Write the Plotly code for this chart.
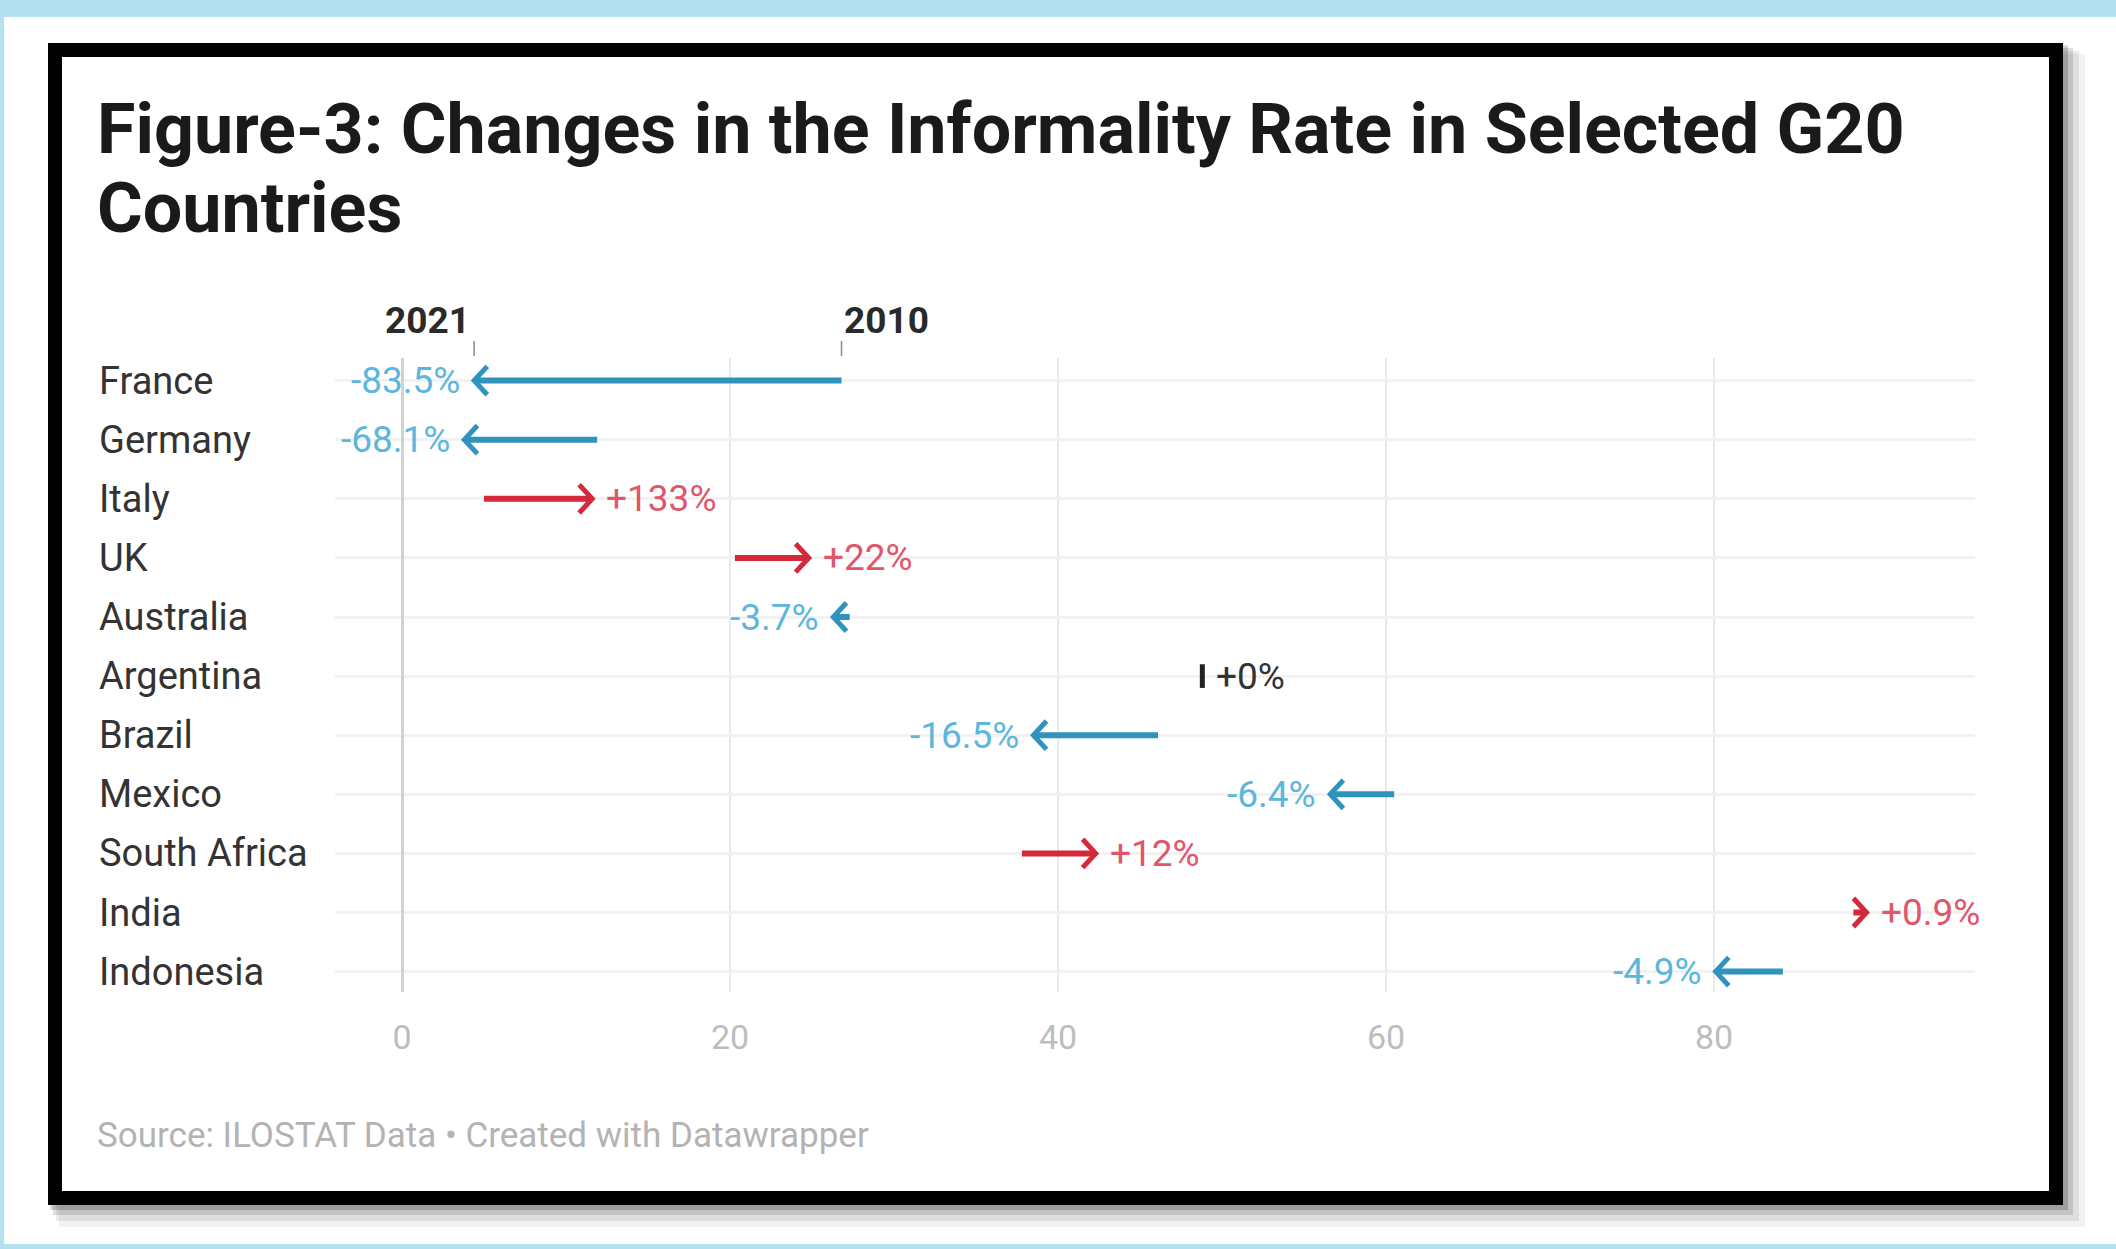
import plotly.graph_objects as go

# ---------------- data ----------------
countries = ["France", "Germany", "Italy", "UK", "Australia", "Argentina",
             "Brazil", "Mexico", "South Africa", "India", "Indonesia"]
rate_2010 = [26.8, 11.9, 5.0, 20.3, 27.3, 48.8, 46.1, 60.5, 37.8, 88.5, 84.2]
rate_2021 = [4.4, 3.8, 11.6, 24.8, 26.3, 48.8, 38.5, 56.6, 42.3, 89.3, 80.1]
change_labels = ["-83.5%", "-68.1%", "+133%", "+22%", "-3.7%", "+0%",
                 "-16.5%", "-6.4%", "+12%", "+0.9%", "-4.9%"]
x_ticks = [0, 20, 40, 60, 80]
title_lines = ["Figure-3: Changes in the Informality Rate in Selected G20", "Countries"]
source_text = "Source: ILOSTAT Data \u2022 Created with Datawrapper"

# ---------------- style ----------------
W, H = 2116, 1249
FONT = "Roboto"
BLUE = "#2f93bd"
BLUE_LBL = "#5db6dc"
RED = "#d3293a"
RED_LBL = "#e0566a"
DARK = "#222222"


def fx(p):
    return p / W


def fy(p):
    return 1 - p / H


# plot area in pixels
PL, PR, PT, PB = 335, 1975, 358, 992
X0_PX, X_SCALE = 402, 16.4           # pixel of value 0, pixels per unit
ROW0_PX, ROW_STEP = 380.6, 59.1
x_range = [(PL - X0_PX) / X_SCALE, (PR - X0_PX) / X_SCALE]
y_range = [(PB - ROW0_PX) / ROW_STEP, (PT - ROW0_PX) / ROW_STEP]

HEAD_D = 0.8    # arrow head length in x units
HEAD_H = 0.24   # arrow head half-height in row units

fig = go.Figure()

for i, (c, s, e) in enumerate(zip(countries, rate_2010, rate_2021)):
    if e == s:
        fig.add_trace(go.Scatter(x=[s, s], y=[i - 0.2, i + 0.2], mode="lines",
                                 line=dict(color=DARK, width=5),
                                 hoverinfo="skip", showlegend=False))
        continue
    d = 1 if e > s else -1
    col = RED if d > 0 else BLUE
    fig.add_trace(go.Scatter(x=[s, e - d * 0.15], y=[i, i], mode="lines",
                             line=dict(color=col, width=6),
                             hoverinfo="skip", showlegend=False))
    fig.add_trace(go.Scatter(x=[e - d * HEAD_D, e, e - d * HEAD_D],
                             y=[i - HEAD_H, i, i + HEAD_H], mode="lines",
                             line=dict(color=col, width=5),
                             hoverinfo="skip", showlegend=False))

annotations = []
# title
for txt, yc in zip(title_lines, (129, 208)):
    annotations.append(dict(text="<b>" + txt + "</b>", x=fx(95), y=fy(yc),
                            xref="paper", yref="paper", xanchor="left", yanchor="middle",
                            showarrow=False, font=dict(family=FONT, size=70, color="#1a1a1a")))
# country labels
for i, c in enumerate(countries):
    annotations.append(dict(text=c, x=fx(97), y=i, xref="paper", yref="y",
                            xanchor="left", yanchor="middle", showarrow=False,
                            font=dict(family=FONT, size=38, color="#333333")))
# value labels
for i, (s, e, lbl) in enumerate(zip(rate_2010, rate_2021, change_labels)):
    if e < s:
        annotations.append(dict(text=lbl, x=e, y=i, xref="x", yref="y", xanchor="right",
                                yanchor="middle", xshift=-12, showarrow=False,
                                font=dict(family=FONT, size=37, color=BLUE_LBL)))
    else:
        col = RED_LBL if e > s else "#333333"
        annotations.append(dict(text=lbl, x=e, y=i, xref="x", yref="y", xanchor="left",
                                yanchor="middle", xshift=12, showarrow=False,
                                font=dict(family=FONT, size=37, color=col)))
# header labels
annotations.append(dict(text="<b>2021</b>", x=rate_2021[0], y=fy(320), xref="x", yref="paper",
                        xanchor="right", yanchor="middle", xshift=-2, showarrow=False,
                        font=dict(family=FONT, size=37, color="#2a2a2a")))
annotations.append(dict(text="<b>2010</b>", x=rate_2010[0], y=fy(320), xref="x", yref="paper",
                        xanchor="left", yanchor="middle", xshift=0, showarrow=False,
                        font=dict(family=FONT, size=37, color="#2a2a2a")))
# source
annotations.append(dict(text=source_text, x=fx(95), y=fy(1135), xref="paper", yref="paper",
                        xanchor="left", yanchor="middle", showarrow=False,
                        font=dict(family=FONT, size=35, color="#b3b3b3")))

shapes = []
# background bands (light blue)
shapes.append(dict(type="rect", xref="paper", yref="paper", x0=0, x1=1, y0=fy(17), y1=1,
                   fillcolor="#b4e1ef", line=dict(width=0), layer="below"))
shapes.append(dict(type="rect", xref="paper", yref="paper", x0=0, x1=fx(4), y0=0, y1=1,
                   fillcolor="#b4e1ef", line=dict(width=0), layer="below"))
shapes.append(dict(type="rect", xref="paper", yref="paper", x0=0, x1=1, y0=0, y1=fy(1244),
                   fillcolor="#b4e1ef", line=dict(width=0), layer="below"))
# shadow
for off, op in [(22, 0.05), (16, 0.08), (10, 0.12), (5, 0.18)]:
    shapes.append(dict(type="rect", xref="paper", yref="paper",
                       x0=fx(48 + off * 0.5), x1=fx(2063 + off), y0=fy(1205 + off), y1=fy(43 + off * 0.5),
                       fillcolor="rgba(0,0,0,%s)" % op, line=dict(width=0), layer="below"))
# frame
shapes.append(dict(type="rect", xref="paper", yref="paper", x0=fx(55), x1=fx(2056),
                   y0=fy(1198), y1=fy(50), fillcolor="white",
                   line=dict(color="black", width=14), layer="below"))
# small header ticks
for v in (rate_2021[0], rate_2010[0]):
    shapes.append(dict(type="line", xref="x", yref="paper", x0=v, x1=v,
                       y0=fy(356), y1=fy(341), line=dict(color="#8a8a8a", width=1.5)))

fig.update_layout(
    width=W, height=H,
    margin=dict(l=0, r=0, t=0, b=0),
    paper_bgcolor="white",
    plot_bgcolor="rgba(0,0,0,0)",
    showlegend=False,
    shapes=shapes,
    annotations=annotations,
    xaxis=dict(domain=[fx(PL), fx(PR)], range=x_range, tickvals=x_ticks,
               ticktext=[str(t) for t in x_ticks], showgrid=True,
               gridcolor="#e9e9e9", gridwidth=2, zeroline=True,
               zerolinecolor="#d2d2d2", zerolinewidth=3, showline=False,
               ticks="", ticklabelstandoff=22, automargin=False,
               tickfont=dict(family=FONT, size=34, color="#bdbdbd"), fixedrange=True),
    yaxis=dict(domain=[fy(PB), fy(PT)], range=y_range, tickvals=list(range(len(countries))),
               showticklabels=False, showgrid=True, gridcolor="#f2f2f2", gridwidth=3,
               zeroline=False, showline=False, ticks="", automargin=False, fixedrange=True),
)

fig.write_html("out.html")
